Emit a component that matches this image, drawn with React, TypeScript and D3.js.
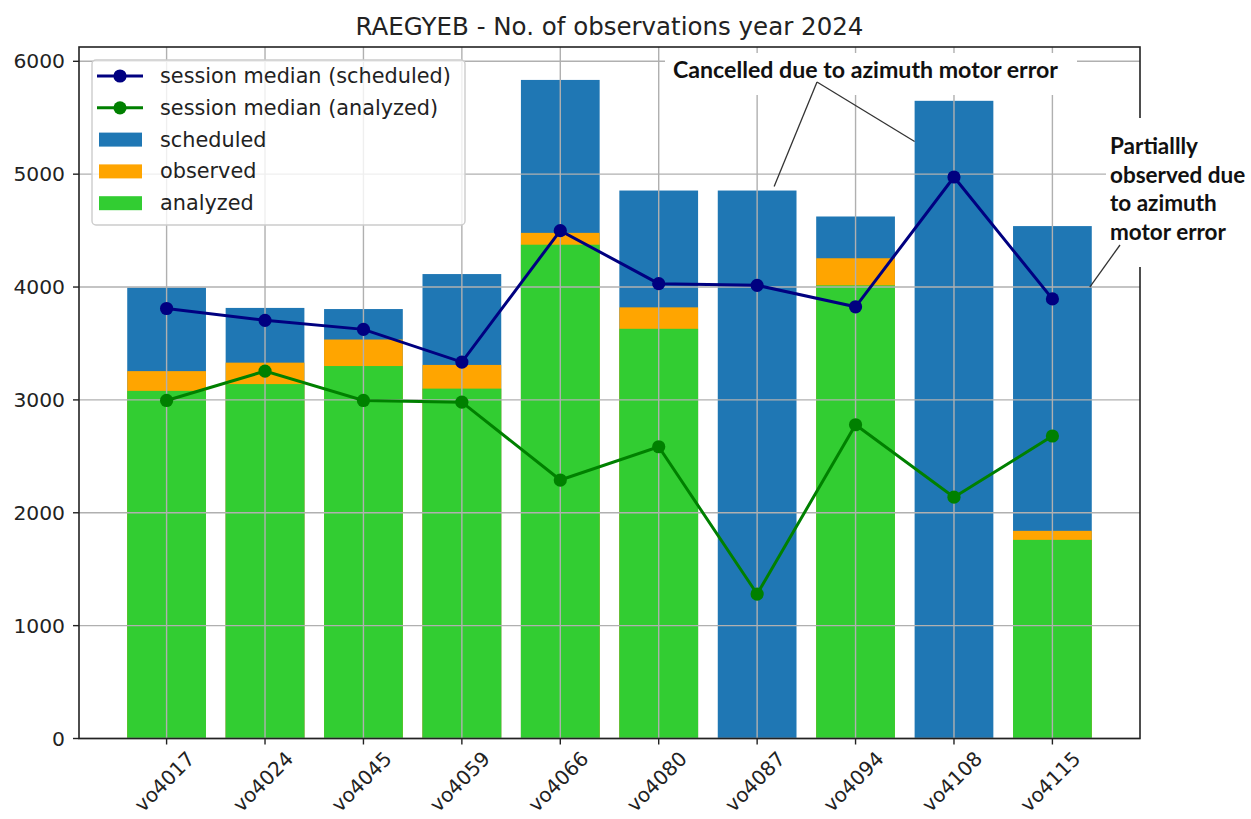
import React from "react";
import * as d3 from "d3";

const categories = ["vo4017", "vo4024", "vo4045", "vo4059", "vo4066", "vo4080", "vo4087", "vo4094", "vo4108", "vo4115"];
const scheduled = [3995, 3815, 3805, 4115, 5835, 4855, 4855, 4625, 5650, 4540];
const observed = [3255, 3330, 3535, 3310, 4480, 3820, 0, 4255, 0, 1840];
const analyzed = [3080, 3140, 3300, 3100, 4375, 3630, 0, 4015, 0, 1760];
const medianScheduled = [3810, 3705, 3625, 3335, 4500, 4030, 4015, 3825, 4975, 3895];
const medianAnalyzed = [2995, 3255, 2995, 2980, 2290, 2585, 1280, 2780, 2138, 2680];
const yTicks = [0, 1000, 2000, 3000, 4000, 5000, 6000];

const W = 1251, H = 819;
const left = 79, right = 1140, top = 47, bottom = 738.5;
const FONT = "'DejaVu Sans', sans-serif";
const ANN_FONT = "Lato, 'Open Sans', sans-serif";

export default function App() {
  const n = categories.length;
  const barW = 0.8;
  const margin = (n - 1 + barW) * 0.05;
  const x = d3.scaleLinear().domain([-barW / 2 - margin, n - 1 + barW / 2 + margin]).range([left, right]);
  const yMax = (d3.max(scheduled) as number) * 1.05;
  const y = d3.scaleLinear().domain([0, yMax]).range([bottom, top]);
  const bw = x(barW) - x(0);

  const line = d3.line<number>().x((_, i) => x(i)).y((d) => y(d));

  const gridColor = "#b0b0b0";
  const legendRows = [
    { type: "line", color: "#000080", label: "session median (scheduled)" },
    { type: "line", color: "#008000", label: "session median (analyzed)" },
    { type: "patch", color: "#1f77b4", label: "scheduled" },
    { type: "patch", color: "#ffa500", label: "observed" },
    { type: "patch", color: "#32cd32", label: "analyzed" },
  ];

  return (
    <svg width={W} height={H} style={{ position: "absolute", left: 0, top: 0, background: "#fff" }} fontFamily={FONT}>
      <rect x={0} y={0} width={W} height={H} fill="#fff" />
      {/* bars */}
      {categories.map((c, i) => (
        <g key={c}>
          <rect x={x(i) - bw / 2} y={y(scheduled[i])} width={bw} height={bottom - y(scheduled[i])} fill="#1f77b4" />
          {observed[i] > 0 && (
            <rect x={x(i) - bw / 2} y={y(observed[i])} width={bw} height={bottom - y(observed[i])} fill="#ffa500" />
          )}
          {analyzed[i] > 0 && (
            <rect x={x(i) - bw / 2} y={y(analyzed[i])} width={bw} height={bottom - y(analyzed[i])} fill="#32cd32" />
          )}
        </g>
      ))}
      {/* grid */}
      {yTicks.map((t) => (
        <line key={"gy" + t} x1={left} x2={right} y1={y(t)} y2={y(t)} stroke={gridColor} strokeWidth={1.4} />
      ))}
      {categories.map((c, i) => (
        <line key={"gx" + c} x1={x(i)} x2={x(i)} y1={top} y2={bottom} stroke={gridColor} strokeWidth={1.4} />
      ))}
      {/* median lines */}
      <path d={line(medianScheduled) || ""} fill="none" stroke="#000080" strokeWidth={3} />
      {medianScheduled.map((v, i) => (
        <circle key={"ms" + i} cx={x(i)} cy={y(v)} r={6.6} fill="#000080" />
      ))}
      <path d={line(medianAnalyzed) || ""} fill="none" stroke="#008000" strokeWidth={3} />
      {medianAnalyzed.map((v, i) => (
        <circle key={"ma" + i} cx={x(i)} cy={y(v)} r={6.6} fill="#008000" />
      ))}
      {/* spines */}
      <rect x={left} y={top} width={right - left} height={bottom - top} fill="none" stroke="#222" strokeWidth={1.6} />
      {/* y ticks */}
      {yTicks.map((t) => (
        <g key={"yt" + t}>
          <line x1={left - 6} x2={left} y1={y(t)} y2={y(t)} stroke="#222" strokeWidth={1.4} />
          <text x={left - 14} y={y(t)} textAnchor="end" dominantBaseline="central" fontSize={20.3} fill="#222">
            {t}
          </text>
        </g>
      ))}
      {/* x ticks */}
      {categories.map((c, i) => (
        <g key={"xt" + c}>
          <line x1={x(i)} x2={x(i)} y1={bottom} y2={bottom + 6} stroke="#222" strokeWidth={1.4} />
          <text
            transform={`translate(${x(i) - 2},${bottom + 43}) rotate(-45)`}
            textAnchor="middle"
            dominantBaseline="central"
            fontSize={20}
            fill="#222"
          >
            {c}
          </text>
        </g>
      ))}
      {/* title */}
      <text x={(left + right) / 2} y={35} textAnchor="middle" fontSize={24.5} fill="#222">
        RAEGYEB - No. of observations year 2024
      </text>
      {/* legend */}
      <g>
        <rect x={92} y={60} width={373} height={165} rx={4} fill="#fff" fillOpacity={0.8} stroke="#cccccc" strokeWidth={1.4} />
        {legendRows.map((r, k) => {
          const cy = 76 + k * 31.8;
          return (
            <g key={r.label}>
              {r.type === "line" ? (
                <g>
                  <line x1={97} x2={143} y1={cy} y2={cy} stroke={r.color} strokeWidth={3} />
                  <circle cx={120} cy={cy} r={6.6} fill={r.color} />
                </g>
              ) : (
                <rect x={99} y={cy - 7} width={43} height={14} fill={r.color} />
              )}
              <text x={160} y={cy} dominantBaseline="central" fontSize={20.8} fill="#222">
                {r.label}
              </text>
            </g>
          );
        })}
      </g>
      {/* annotation: cancelled */}
      <rect x={665} y={53} width={412} height={42} fill="#fff" />
      <text x={673} y={78} fontFamily={ANN_FONT} fontWeight="bold" fontSize={22} fill="#111" textLength={385} lengthAdjust="spacingAndGlyphs">
        Cancelled due to azimuth motor error
      </text>
      <line x1={817} y1={82} x2={x(6) + 17} y2={y(scheduled[6]) - 4} stroke="#333" strokeWidth={1.3} />
      <line x1={817} y1={82} x2={x(8) - bw / 2} y2={y(5290)} stroke="#333" strokeWidth={1.3} />
      {/* annotation: partially observed */}
      <rect x={1106} y={118} width={145} height={149} fill="#fff" />
      {["Partiallly", "observed due", "to azimuth", "motor error"].map((s, k) => (
        <text key={s} x={1110} y={154 + k * 28.5} fontFamily={ANN_FONT} fontWeight="bold" fontSize={22.5} fill="#111">
          {s}
        </text>
      ))}
      <line x1={1120} y1={245} x2={x(9) + bw / 2 - 2} y2={y(4000)} stroke="#333" strokeWidth={1.3} />
    </svg>
  );
}
